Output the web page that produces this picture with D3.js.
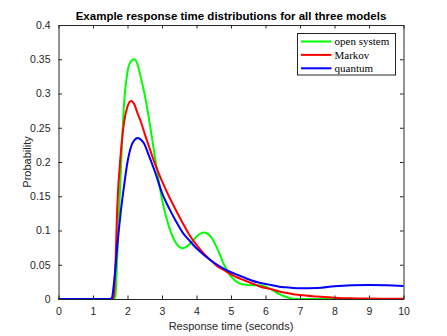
<!DOCTYPE html>
<html>
<head>
<meta charset="utf-8">
<script src="https://cdn.jsdelivr.net/npm/d3@7"></script>
<style>
  html, body { margin: 0; padding: 0; background: #fff; }
  svg { display: block; }
</style>
</head>
<body>
<svg id="chart" width="447" height="336"></svg>
<script>
const titleText = "Example response time distributions for all three models";
const xLabel = "Response time (seconds)";
const yLabel = "Probability";
const seriesNames = ["open system", "Markov", "quantum"];
const seriesColors = ["#00ff00", "#ff0000", "#0000ff"];
const xTicks = [0, 1, 2, 3, 4, 5, 6, 7, 8, 9, 10];
const yTicks = [0, 0.05, 0.1, 0.15, 0.2, 0.25, 0.3, 0.35, 0.4];

const times = [0, 0.5, 1.0, 1.5, 1.55, 1.6, 1.65, 1.7, 1.8, 1.9, 2.0, 2.1, 2.2, 2.3, 2.4, 2.5, 2.6, 2.8, 3.0, 3.2, 3.4, 3.6, 3.8, 4.0, 4.2, 4.4, 4.6, 4.8, 5.0, 5.2, 5.4, 5.6, 5.8, 6.0, 6.2, 6.4, 6.6, 6.8, 7.0, 7.5, 8.0, 8.5, 9.0, 9.5, 10];

const openSystem = [0, 0, 0, 0, 0, 0, 0.004, 0.06, 0.18, 0.285, 0.332, 0.347, 0.350, 0.341, 0.320, 0.298, 0.270, 0.206, 0.145, 0.106, 0.082, 0.074, 0.080, 0.091, 0.097, 0.092, 0.074, 0.050, 0.033, 0.024, 0.021, 0.020, 0.020, 0.018, 0.013, 0.007, 0.003, 0.0005, 0, 0, 0, 0, 0, 0, 0];

const markov = [0, 0, 0, 0, 0, 0.003, 0.05, 0.13, 0.21, 0.258, 0.281, 0.289, 0.284, 0.270, 0.257, 0.241, 0.226, 0.197, 0.172, 0.150, 0.130, 0.111, 0.093, 0.079, 0.067, 0.057, 0.048, 0.042, 0.036, 0.031, 0.027, 0.023, 0.019, 0.016, 0.014, 0.011, 0.009, 0.007, 0.006, 0.0035, 0.002, 0.001, 0.0006, 0.0004, 0.0002];

const quantum = [0, 0, 0, 0, 0.002, 0.02, 0.045, 0.075, 0.125, 0.165, 0.200, 0.222, 0.232, 0.235, 0.232, 0.225, 0.212, 0.185, 0.155, 0.133, 0.114, 0.097, 0.085, 0.074, 0.065, 0.057, 0.050, 0.044, 0.039, 0.035, 0.031, 0.027, 0.024, 0.022, 0.020, 0.018, 0.017, 0.016, 0.0156, 0.016, 0.0185, 0.020, 0.0205, 0.0202, 0.019];

const seriesValues = [openSystem, markov, quantum];

const svg = d3.select("#chart");
const margin = {left: 58.5, top: 25, right: 447 - 403.5, bottom: 336 - 299};
const W = 447 - margin.left - margin.right;
const H = 336 - margin.top - margin.bottom;
const axisColor = "#262626";
const sans = "'Liberation Sans', Arial, Helvetica, sans-serif";
const serif = "'Liberation Serif', 'Times New Roman', serif";

const x = d3.scaleLinear().domain([0, 10]).range([0, W]);
const y = d3.scaleLinear().domain([0, 0.4]).range([H, 0]);

const g = svg.append("g").attr("transform", `translate(${margin.left},${margin.top})`);

// curves
const line = d3.line()
  .x(d => x(d[0]))
  .y(d => y(d[1]))
  .curve(d3.curveMonotoneX);

seriesValues.forEach((vals, i) => {
  const pts = times.map((t, k) => [t, vals[k]]);
  g.append("path")
    .datum(pts)
    .attr("fill", "none")
    .attr("stroke", seriesColors[i])
    .attr("stroke-width", 2)
    .attr("d", line);
});

// axes (ticks inside, MATLAB style)
function styleAxis(sel) {
  sel.selectAll("path").attr("stroke", axisColor).attr("stroke-width", 1);
  sel.selectAll("line").attr("stroke", axisColor).attr("stroke-width", 1);
  sel.selectAll("text").attr("fill", axisColor).style("font-family", sans).style("font-size", "10.5px");
}

const xAxis = g.append("g").attr("transform", `translate(0,${H})`)
  .call(d3.axisBottom(x).tickValues(xTicks).tickFormat(d3.format("d")).tickSizeInner(-3.5).tickSizeOuter(0).tickPadding(9));
styleAxis(xAxis);

const xAxisTop = g.append("g")
  .call(d3.axisTop(x).tickValues(xTicks).tickFormat("").tickSizeInner(-3.5).tickSizeOuter(0));
styleAxis(xAxisTop);

const yAxis = g.append("g")
  .call(d3.axisLeft(y).tickValues(yTicks).tickFormat(d => d === 0 ? "0" : String(+d.toFixed(2))).tickSizeInner(-3.5).tickSizeOuter(0).tickPadding(8));
styleAxis(yAxis);

const yAxisRight = g.append("g").attr("transform", `translate(${W},0)`)
  .call(d3.axisRight(y).tickValues(yTicks).tickFormat("").tickSizeInner(-3.5).tickSizeOuter(0));
styleAxis(yAxisRight);

// title
svg.append("text")
  .attr("x", margin.left + W / 2)
  .attr("y", 20)
  .attr("text-anchor", "middle")
  .style("font-family", sans)
  .style("font-size", "11.5px")
  .style("font-weight", "bold")
  .attr("fill", "#000")
  .text(titleText);

// x label
svg.append("text")
  .attr("x", margin.left + W / 2)
  .attr("y", 330)
  .attr("text-anchor", "middle")
  .style("font-family", sans)
  .style("font-size", "11px")
  .attr("fill", axisColor)
  .text(xLabel);

// y label
svg.append("text")
  .attr("transform", `translate(31,${margin.top + H / 2}) rotate(-90)`)
  .attr("text-anchor", "middle")
  .style("font-family", sans)
  .style("font-size", "11px")
  .attr("fill", axisColor)
  .text(yLabel);

// legend
const lg = svg.append("g").attr("transform", "translate(297.5,33.5)");
lg.append("rect")
  .attr("width", 98).attr("height", 41.5)
  .attr("fill", "#fff").attr("stroke", axisColor).attr("stroke-width", 1);
seriesNames.forEach((name, i) => {
  const yy = 8 + i * 13.4;
  lg.append("line")
    .attr("x1", 3.5).attr("x2", 34).attr("y1", yy).attr("y2", yy)
    .attr("stroke", seriesColors[i]).attr("stroke-width", 2);
  lg.append("text")
    .attr("x", 37).attr("y", yy + 3.8)
    .style("font-family", serif)
    .style("font-size", "11px")
    .attr("fill", "#000")
    .text(name);
});
</script>
</body>
</html>
